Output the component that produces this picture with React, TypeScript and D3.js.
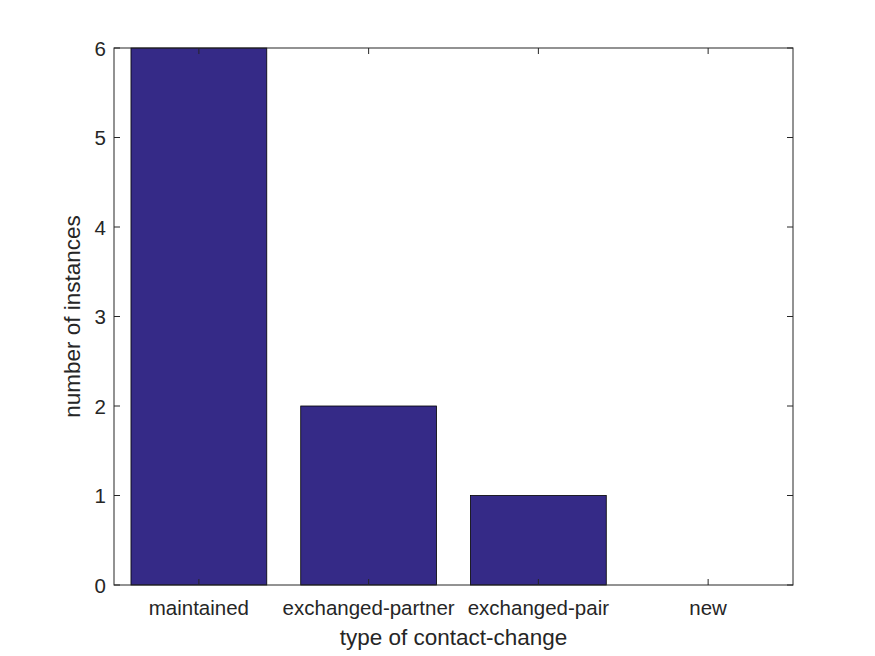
import React from "react";
import * as d3 from "d3";

const categories = ["maintained", "exchanged-partner", "exchanged-pair", "new"];
const values = [6, 2, 1, 0];
const yTicks = [0, 1, 2, 3, 4, 5, 6];

export default function App() {
  const W = 875, H = 656;
  const left = 114, right = 793, top = 48, bottom = 585;
  const x = d3.scaleLinear().domain([0.5, 4.5]).range([left, right]);
  const y = d3.scaleLinear().domain([0, 6]).range([bottom, top]);
  const bw = 0.8;
  const font = "'Liberation Sans', Arial, sans-serif";
  const tl = 6;
  const tickFs = 20.5;
  const labFs = 22.5;
  return (
    <svg width={W} height={H} style={{ position: "absolute", left: 0, top: 0, background: "#fff" }}>
      {values.map((v, i) => (
        <rect key={i} x={x(i + 1 - bw / 2)} y={y(v)} width={x(i + 1 + bw / 2) - x(i + 1 - bw / 2)}
          height={y(0) - y(v)} fill="#352a87" stroke="#000" strokeWidth={0.8} />
      ))}
      <rect x={left} y={top} width={right - left} height={bottom - top} fill="none" stroke="#262626" strokeWidth={1} />
      {categories.map((c, i) => (
        <g key={c}>
          <line x1={x(i + 1)} x2={x(i + 1)} y1={bottom} y2={bottom - tl} stroke="#262626" />
          <line x1={x(i + 1)} x2={x(i + 1)} y1={top} y2={top + tl} stroke="#262626" />
          <text x={x(i + 1)} y={bottom + 30} textAnchor="middle" fontFamily={font} fontSize={tickFs} fill="#262626">{c}</text>
        </g>
      ))}
      {yTicks.map(t => (
        <g key={t}>
          <line x1={left} x2={left + tl} y1={y(t)} y2={y(t)} stroke="#262626" />
          <line x1={right} x2={right - tl} y1={y(t)} y2={y(t)} stroke="#262626" />
          <text x={106} y={y(t) + 7.5} textAnchor="end" fontFamily={font} fontSize={tickFs} fill="#262626">{t}</text>
        </g>
      ))}
      <text x={(left + right) / 2} y={645} textAnchor="middle" fontFamily={font} fontSize={labFs} fill="#262626">type of contact-change</text>
      <text transform={`translate(80,${(top + bottom) / 2}) rotate(-90)`} textAnchor="middle" fontFamily={font} fontSize={labFs} fill="#262626">number of instances</text>
    </svg>
  );
}
